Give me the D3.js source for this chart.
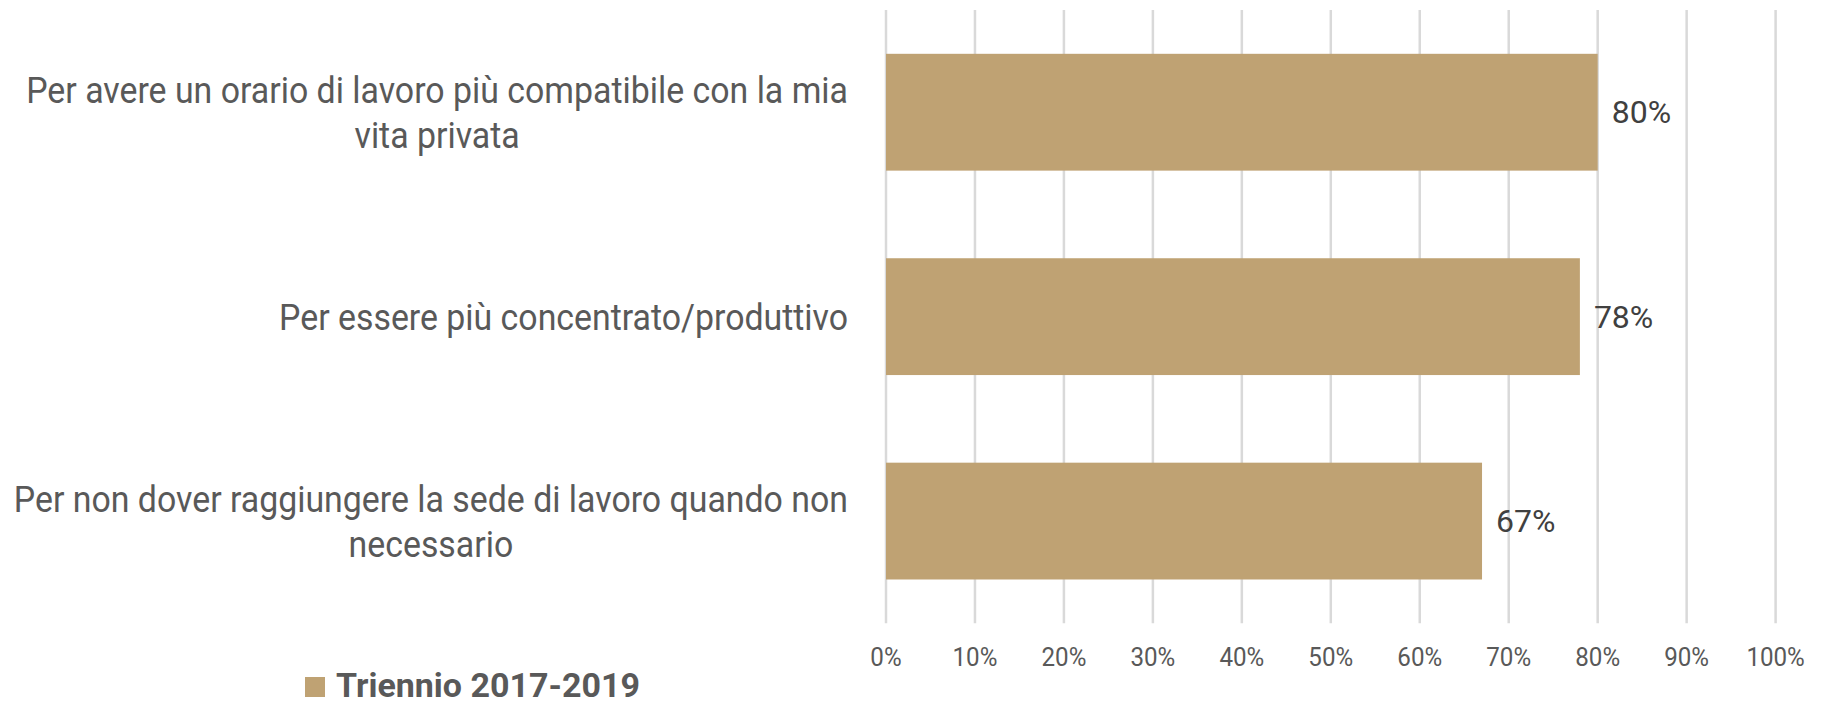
<!DOCTYPE html>
<html><head><meta charset="utf-8">
<script src="https://cdn.jsdelivr.net/npm/d3@7"></script>
<style>body{margin:0;background:#fff;} svg{display:block;}</style>
</head><body>
<svg id="c" width="1822" height="705"></svg>
<script>
const categories = [
  ["Per avere un orario di lavoro più compatibile con la mia", "vita privata"],
  ["Per essere più concentrato/produttivo"],
  ["Per non dover raggiungere la sede di lavoro quando non", "necessario"]
];
const values = [80, 78, 67];
const tickValues = [0,10,20,30,40,50,60,70,80,90,100];
const seriesName = "Triennio 2017-2019";

const svg = d3.select("#c");
const x = d3.scaleLinear().domain([0,100]).range([886, 1775.6]);
const y = d3.scaleBand().domain(d3.range(categories.length)).range([10, 623.3])
  .paddingInner(0.4286).paddingOuter(0.2143);

// gridlines
svg.append("g").selectAll("line").data(tickValues).join("line")
  .attr("x1", d=>x(d)).attr("x2", d=>x(d)).attr("y1", 10).attr("y2", 623.3)
  .attr("stroke", "#d9d9d9").attr("stroke-width", 2.5);

// tick labels
svg.append("g").selectAll("text").data(tickValues).join("text")
  .attr("transform", d=>`translate(${x(d)},665.7) scale(0.93,1)`).attr("text-anchor","middle")
  .attr("font-family","Roboto").attr("font-size", 26).attr("fill","#595959")
  .text(d=>d+"%");

// bars
svg.append("g").selectAll("rect").data(values).join("rect")
  .attr("x", x(0)).attr("y", (d,i)=>y(i)).attr("width", d=>x(d)-x(0))
  .attr("height", y.bandwidth()).attr("fill", "#bfa273");

// value labels
svg.append("g").selectAll("text").data(values).join("text")
  .attr("x", d=>x(d)+14).attr("y", (d,i)=>y(i)+y.bandwidth()/2).attr("dy","0.35em")
  .attr("font-family","Roboto").attr("font-size", 32).attr("fill","#404040")
  .text(d=>d+"%");

// category labels
const right = 848, lineH = 45, sx = 0.915;
categories.forEach((lines, i) => {
  const cy = y(i) + y.bandwidth()/2;
  const g = svg.append("g").attr("transform", `translate(${right},0) scale(${sx},1)`);
  const first = g.append("text").attr("x", 0).attr("text-anchor","end")
    .attr("font-family","Roboto").attr("font-size", 37).attr("fill","#595959")
    .attr("y", cy - (lines.length-1)*lineH/2).attr("dy","0.35em").text(lines[0]);
  const w = first.node().getComputedTextLength();
  lines.slice(1).forEach((ln, j) => {
    g.append("text").attr("x", -w/2).attr("text-anchor","middle")
      .attr("font-family","Roboto").attr("font-size", 37).attr("fill","#595959")
      .attr("y", cy - (lines.length-1)*lineH/2 + (j+1)*lineH).attr("dy","0.35em").text(ln);
  });
});

// legend
svg.append("rect").attr("x",305).attr("y",677).attr("width",20).attr("height",20).attr("fill","#bfa273");
svg.append("text").attr("transform","translate(336,697)").attr("font-family","Roboto").attr("font-weight","bold")
  .attr("font-size",34).attr("fill","#595959").text(seriesName);
</script>
</body></html>
